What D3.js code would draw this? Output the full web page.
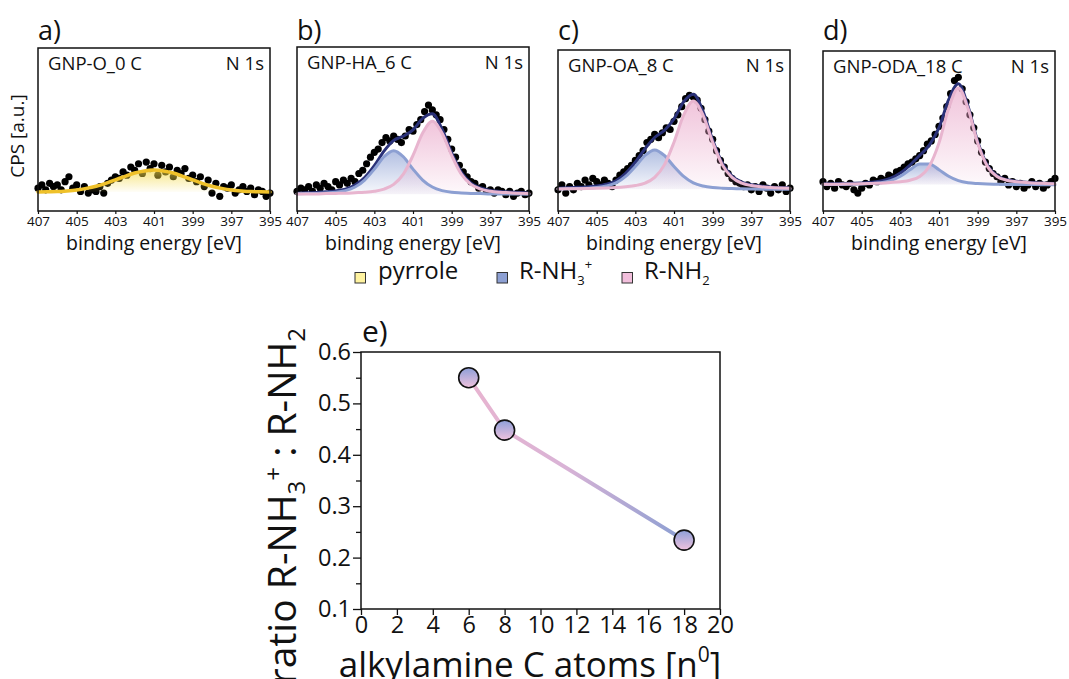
<!DOCTYPE html>
<html>
<head>
<meta charset="utf-8">
<script src="https://cdn.jsdelivr.net/npm/d3@7"></script>
<style>
  body { margin: 0; background: #fff; }
  svg { display: block; font-family: "Open Sans", sans-serif; }
</style>
</head>
<body>
<svg id="chart" width="1069" height="679"></svg>
<script>
// ---- data ----
const panelLabels = ["a)", "b)", "c)", "d)"];
const sampleNames = ["GNP-O_0 C", "GNP-HA_6 C", "GNP-OA_8 C", "GNP-ODA_18 C"];
const energyTicks = [407, 405, 403, 401, 399, 397, 395];

// measured points (binding energy, CPS in a.u.)
const pointEnergy = [407.0, 406.8, 406.6, 406.4, 406.2, 406.0, 405.8, 405.6, 405.4, 405.2, 405.0, 404.8, 404.6, 404.4, 404.2, 404.0,
  403.8, 403.6, 403.4, 403.2, 403.0, 402.8, 402.6, 402.4, 402.2, 402.0, 401.8, 401.6, 401.4, 401.2, 401.0, 400.8, 400.6, 400.4,
  400.2, 400.0, 399.8, 399.6, 399.4, 399.2, 399.0, 398.8, 398.6, 398.4, 398.2, 398.0, 397.8, 397.6, 397.4, 397.2, 397.0, 396.8,
  396.6, 396.4, 396.2, 396.0, 395.8, 395.6, 395.4, 395.2, 395.0];
const countsA = [14, 16, 13, 17, 15, 16, 13, 18, 21, 14, 16, 12, 15, 11, 13, 12, 15, 11, 17, 19, 21, 20, 24, 22, 27, 25, 29, 23, 30, 26,
  29, 22, 28, 24, 27, 21, 25, 23, 26, 20, 22, 18, 21, 15, 19, 11, 17, 9, 15, 14, 16, 11, 13, 15, 12, 14, 10, 13, 12, 9, 11];
const countsB = [12, 14, 13, 15, 12, 16, 14, 17, 15, 13, 18, 16, 19, 17, 20, 18, 23, 25, 29, 33, 36, 38, 42, 45, 43, 46, 44, 42, 46, 50,
  49, 53, 56, 61, 65, 62, 59, 56, 50, 44, 38, 33, 28, 24, 21, 18, 17, 14, 15, 12, 13, 11, 13, 12, 10, 12, 9, 11, 12, 10, 11];
const countsC = [13, 16, 11, 15, 13, 17, 15, 19, 16, 20, 18, 16, 19, 17, 15, 19, 22, 24, 26, 28, 31, 34, 37, 42, 44, 47, 45, 48, 51, 50,
  55, 59, 64, 69, 71, 70, 68, 63, 56, 49, 44, 37, 31, 27, 23, 20, 18, 17, 15, 16, 13, 15, 12, 16, 14, 11, 15, 13, 16, 12, 14];
const countsD = [18, 15, 17, 14, 18, 16, 15, 17, 13, 11, 14, 17, 16, 19, 18, 20, 19, 22, 21, 24, 25, 27, 29, 30, 32, 34, 37, 41, 43, 47,
  52, 57, 64, 72, 80, 82, 75, 67, 59, 51, 43, 36, 30, 26, 23, 21, 18, 20, 16, 18, 15, 17, 14, 16, 18, 15, 17, 14, 16, 18, 20];

// fitted components, sampled every 0.5 eV
const fitEnergy = [407, 406.5, 406, 405.5, 405, 404.5, 404, 403.5, 403, 402.5, 402, 401.5, 401, 400.5, 400, 399.5, 399, 398.5, 398,
  397.5, 397, 396.5, 396, 395.5, 395];
const pyrroleA = [11.7, 11.8, 11.9, 12.3, 12.9, 13.9, 15.2, 17.0, 19.1, 21.3, 23.3, 24.6, 25.1, 24.6, 23.3, 21.3, 19.1, 17.0, 15.2,
  13.9, 12.9, 12.3, 11.9, 11.8, 11.7];
const ammoniumB = [10.5, 10.7, 10.8, 11.1, 11.5, 12.5, 14.7, 19.0, 25.7, 33.3, 37.0, 33.3, 25.7, 19.0, 14.7, 12.5, 11.5, 11.1, 10.8,
  10.7, 10.5, 10.5, 10.4, 10.4, 10.3];
const amineB = [10.4, 10.5, 10.5, 10.7, 10.8, 10.9, 11.2, 11.5, 12.1, 13.4, 16.3, 22.6, 34.1, 47.8, 55.0, 47.8, 34.1, 22.6, 16.3,
  13.4, 12.1, 11.5, 11.2, 10.9, 10.8];
const envelopeB = [10.9, 11.2, 11.3, 11.8, 12.3, 13.4, 15.9, 20.5, 27.8, 36.7, 43.3, 45.9, 49.8, 56.8, 59.7, 50.3, 35.6, 23.7, 17.1,
  14.1, 12.6, 12.0, 11.6, 11.3, 11.1];
const ammoniumC = [13.5, 13.6, 13.8, 14.0, 14.4, 15.3, 17.2, 21.2, 27.3, 34.1, 37.5, 34.1, 27.3, 21.2, 17.2, 15.3, 14.4, 14.0, 13.8,
  13.6, 13.5, 13.4, 13.4, 13.3, 13.3];
const amineC = [13.5, 13.6, 13.7, 13.8, 13.9, 14.1, 14.4, 14.9, 15.6, 17.1, 20.6, 28.3, 42.2, 58.8, 67.5, 58.8, 42.2, 28.3, 20.6,
  17.1, 15.6, 14.9, 14.4, 14.1, 13.9];
const envelopeC = [14.0, 14.2, 14.5, 14.8, 15.3, 16.4, 18.6, 23.1, 29.9, 38.2, 45.1, 49.4, 56.5, 67.0, 71.7, 61.1, 43.6, 29.3, 21.4,
  17.7, 16.1, 15.3, 14.8, 14.4, 14.2];
const ammoniumD = [16.2, 16.3, 16.3, 16.4, 16.5, 16.8, 17.3, 18.6, 21.3, 25.3, 28.9, 28.9, 25.3, 21.3, 18.6, 17.3, 16.8, 16.5, 16.4,
  16.3, 16.3, 16.2, 16.2, 16.1, 16.1];
const amineD = [16.4, 16.4, 16.5, 16.6, 16.7, 16.9, 17.1, 17.5, 18.0, 18.9, 21.2, 27.5, 41.8, 63.0, 75.5, 63.0, 41.8, 27.5, 21.2,
  18.9, 18.0, 17.5, 17.1, 16.9, 16.7];
const envelopeD = [16.6, 16.7, 16.8, 17.0, 17.2, 17.7, 18.4, 20.1, 23.3, 28.2, 34.1, 40.4, 51.1, 68.3, 78.1, 64.3, 42.6, 28.0, 21.6,
  19.2, 18.3, 17.7, 17.3, 17.0, 16.8];

// panel e
const carbonAtoms = [6, 8, 18];
const ratioValues = [0.55, 0.448, 0.234];
const ratioTicks = [0.1, 0.2, 0.3, 0.4, 0.5, 0.6];
const ratioMinorTicks = [0.15, 0.25, 0.35, 0.45, 0.55];
const carbonTicks = [0, 2, 4, 6, 8, 10, 12, 14, 16, 18, 20];

// ---- drawing ----
const svg = d3.select("#chart");
const defs = svg.append("defs");

function vGradient(id, color, topOpacity, bottomOpacity) {
  const g = defs.append("linearGradient").attr("id", id)
    .attr("x1", 0).attr("y1", 0).attr("x2", 0).attr("y2", 1);
  g.append("stop").attr("offset", 0).attr("stop-color", color).attr("stop-opacity", topOpacity);
  g.append("stop").attr("offset", 1).attr("stop-color", color).attr("stop-opacity", bottomOpacity);
}
vGradient("fillYellow", "#f3d946", 0.65, 0.04);
vGradient("fillBlue", "#7e94ce", 0.6, 0.06);
vGradient("fillPink", "#e79dc3", 0.6, 0.06);

const YELLOW = "#efc12a", BLUE = "#8c9fd2", PINK = "#e8b5cf", NAVY = "#2a3178";

const spectra = [
  { counts: countsA, envelope: null, comps: [{ v: pyrroleA, line: YELLOW, fill: "url(#fillYellow)", w: 3.5 }] },
  { counts: countsB, envelope: envelopeB, comps: [{ v: ammoniumB, line: BLUE, fill: "url(#fillBlue)", w: 3 }, { v: amineB, line: PINK, fill: "url(#fillPink)", w: 3 }] },
  { counts: countsC, envelope: envelopeC, comps: [{ v: ammoniumC, line: BLUE, fill: "url(#fillBlue)", w: 3 }, { v: amineC, line: PINK, fill: "url(#fillPink)", w: 3 }] },
  { counts: countsD, envelope: envelopeD, comps: [{ v: ammoniumD, line: BLUE, fill: "url(#fillBlue)", w: 3 }, { v: amineD, line: PINK, fill: "url(#fillPink)", w: 3 }] }
];

const panelLeft = [38, 297, 558, 823];
const panelTop = [48, 47, 50, 51];
const panelW = 232, panelBottom = 211;
const y = d3.scaleLinear().domain([0, 100]).range([panelBottom, 48]);

spectra.forEach((s, i) => {
  const left = panelLeft[i], top = panelTop[i];
  const x = d3.scaleLinear().domain([407, 395]).range([left, left + panelW]);
  const g = svg.append("g");

  g.append("rect").attr("x", left).attr("y", top).attr("width", panelW).attr("height", panelBottom - top)
    .attr("fill", "#fff");

  // raw points
  g.selectAll("circle.pt")
    .data(d3.zip(pointEnergy, s.counts))
    .join("circle")
    .attr("class", "pt")
    .attr("cx", d => x(d[0]))
    .attr("cy", d => y(d[1]))
    .attr("r", 3.6)
    .attr("fill", "#000");

  const line = d3.line().x((d, k) => x(fitEnergy[k])).y(d => y(d)).curve(d3.curveMonotoneX);

  // envelope goes under the components so it only shows where it rises above them
  if (s.envelope) {
    g.append("path").attr("d", line(s.envelope))
      .attr("fill", "none").attr("stroke", NAVY).attr("stroke-width", 3);
  }

  s.comps.forEach(c => {
    const base = d3.min(c.v);
    const area = d3.area().x((d, k) => x(fitEnergy[k])).y0(y(base)).y1(d => y(d)).curve(d3.curveMonotoneX);
    g.append("path").attr("d", area(c.v)).attr("fill", c.fill);
  });
  s.comps.forEach(c => {
    g.append("path").attr("d", line(c.v))
      .attr("fill", "none").attr("stroke", c.line).attr("stroke-width", c.w).attr("stroke-linecap", "round");
  });

  g.append("rect").attr("x", left).attr("y", top).attr("width", panelW).attr("height", panelBottom - top)
    .attr("fill", "none").attr("stroke", "#111").attr("stroke-width", 1.5);

  const ax = svg.append("g").attr("transform", `translate(0,${panelBottom})`)
    .call(d3.axisBottom(x).tickValues(energyTicks).tickSize(3).tickPadding(2).tickFormat(d3.format("d")));
  ax.select(".domain").remove();
  ax.selectAll("line").attr("stroke", "#111").attr("stroke-width", 1.2);
  ax.selectAll("text").attr("font-size", 13.5).attr("fill", "#111").attr("font-family", "Open Sans");

  svg.append("text").attr("x", left).attr("y", 40).attr("font-size", 27).attr("fill", "#111").text(panelLabels[i]);
  svg.append("text").attr("x", left + 10).attr("y", top + 22).attr("font-size", 18.5).attr("fill", "#111").text(sampleNames[i]);
  svg.append("text").attr("x", left + panelW - 6).attr("y", top + 22).attr("font-size", 18.5).attr("fill", "#111")
    .attr("text-anchor", "end").text("N 1s");
  svg.append("text").attr("x", left + panelW / 2).attr("y", 250).attr("font-size", 19.5).attr("fill", "#111")
    .attr("text-anchor", "middle").text("binding energy [eV]");
});

svg.append("text").attr("transform", "translate(24,136) rotate(-90)").attr("text-anchor", "middle")
  .attr("font-size", 19).attr("fill", "#111").text("CPS [a.u.]");

// legend
const legend = [
  { sx: 355, tx: 378, fill: "#fff3a0", main: "pyrrole", sub: null, sup: null },
  { sx: 497, tx: 519, fill: "#8da0d3", main: "R-NH", sub: "3", sup: "+" },
  { sx: 622, tx: 644, fill: "#f2bfdc", main: "R-NH", sub: "2", sup: null }
];
legend.forEach(l => {
  svg.append("rect").attr("x", l.sx).attr("y", 272.5).attr("width", 10.5).attr("height", 10.5)
    .attr("fill", l.fill).attr("stroke", "#333").attr("stroke-width", 1);
  const t = svg.append("text").attr("x", l.tx).attr("y", 279).attr("font-size", 24).attr("fill", "#111").text(l.main);
  if (l.sub) t.append("tspan").attr("font-size", 13).attr("dy", 6).text(l.sub);
  if (l.sup) t.append("tspan").attr("font-size", 13).attr("dy", -16).text(l.sup);
});

// ---- panel e ----
const ex = d3.scaleLinear().domain([0, 20]).range([361, 720]);
const ey = d3.scaleLinear().domain([0.1, 0.6]).range([609, 352]);

const lg = defs.append("linearGradient").attr("id", "ratioLine").attr("gradientUnits", "userSpaceOnUse")
  .attr("x1", ex(6)).attr("y1", 0).attr("x2", ex(18)).attr("y2", 0);
lg.append("stop").attr("offset", 0).attr("stop-color", "#e8b4d0");
lg.append("stop").attr("offset", 0.45).attr("stop-color", "#d9b3d6");
lg.append("stop").attr("offset", 1).attr("stop-color", "#8a9ed2");

const mg = defs.append("linearGradient").attr("id", "ratioMarker")
  .attr("x1", 0).attr("y1", 0).attr("x2", 0).attr("y2", 1);
mg.append("stop").attr("offset", 0).attr("stop-color", "#8d9fd8");
mg.append("stop").attr("offset", 1).attr("stop-color", "#f0c2dd");

svg.append("rect").attr("x", ex(0)).attr("y", ey(0.6)).attr("width", ex(20) - ex(0)).attr("height", ey(0.1) - ey(0.6))
  .attr("fill", "none").attr("stroke", "#111").attr("stroke-width", 1.5);

const ratioPts = d3.zip(carbonAtoms, ratioValues);
svg.append("path")
  .attr("d", d3.line().x(d => ex(d[0])).y(d => ey(d[1]))(ratioPts))
  .attr("fill", "none").attr("stroke", "url(#ratioLine)").attr("stroke-width", 4).attr("stroke-linecap", "round");

svg.selectAll("circle.ratio")
  .data(ratioPts)
  .join("circle")
  .attr("class", "ratio")
  .attr("cx", d => ex(d[0]))
  .attr("cy", d => ey(d[1]))
  .attr("r", 10)
  .attr("fill", "url(#ratioMarker)")
  .attr("stroke", "#111")
  .attr("stroke-width", 1.6);

const eyAxis = svg.append("g").attr("transform", `translate(${ex(0)},0)`)
  .call(d3.axisLeft(ey).tickValues(ratioTicks).tickFormat(d3.format(".1f")).tickSize(8).tickPadding(2));
const eyMinor = svg.append("g").attr("transform", `translate(${ex(0)},0)`)
  .call(d3.axisLeft(ey).tickValues(ratioMinorTicks).tickFormat("").tickSize(5));
const exAxis = svg.append("g").attr("transform", `translate(0,${ey(0.1)})`)
  .call(d3.axisBottom(ex).tickValues(carbonTicks).tickSize(6).tickPadding(1));
[eyAxis, eyMinor, exAxis].forEach(a => {
  a.select(".domain").remove();
  a.selectAll("line").attr("stroke", "#111").attr("stroke-width", 1.3);
  a.selectAll("text").attr("font-size", 23.5).attr("fill", "#111").attr("font-family", "Open Sans");
});

svg.append("text").attr("x", 362).attr("y", 342).attr("font-size", 30).attr("fill", "#111").text("e)");

const xt = svg.append("text").attr("x", 530).attr("y", 677).attr("text-anchor", "middle")
  .attr("font-size", 35).attr("fill", "#111").text("alkylamine C atoms [n");
xt.append("tspan").attr("font-size", 21).attr("dy", -15).text("0");
xt.append("tspan").attr("dy", 15).text("]");

const yt = svg.append("text").attr("transform", "translate(296,328) rotate(-90)").attr("text-anchor", "end")
  .attr("font-size", 39).attr("fill", "#111").text("ratio R-NH");
yt.append("tspan").attr("font-size", 24).attr("dy", 9).text("3");
yt.append("tspan").attr("font-size", 24).attr("dy", -23).text("+");
yt.append("tspan").attr("dy", 14).text(" : R-NH");
yt.append("tspan").attr("font-size", 24).attr("dy", 9).text("2");
</script>
</body>
</html>
